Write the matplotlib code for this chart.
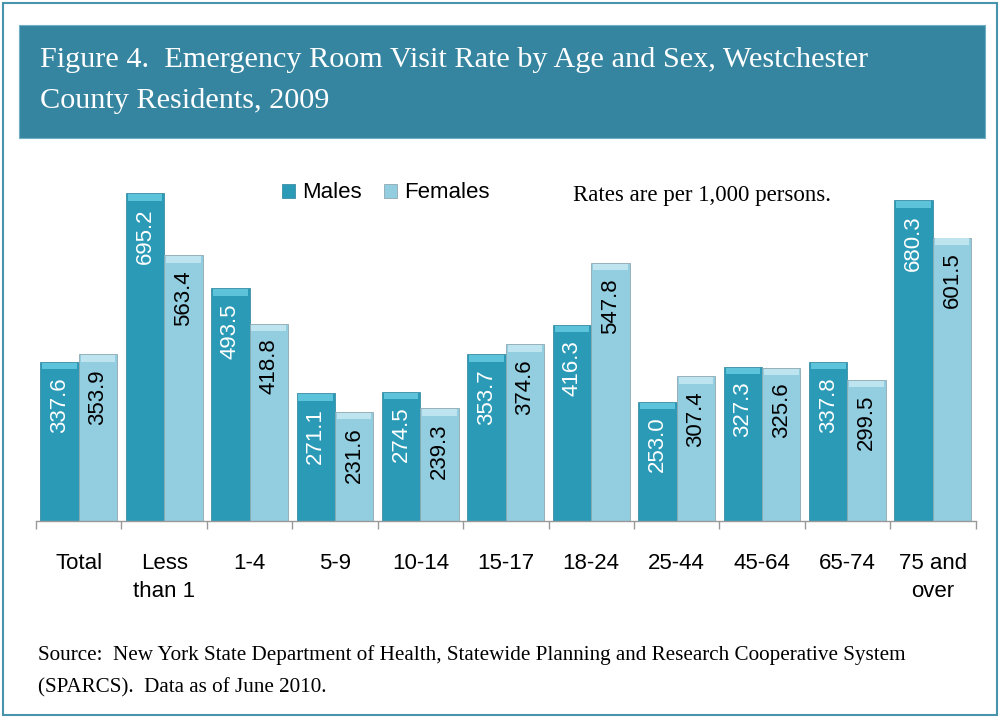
import numpy as np
import matplotlib
matplotlib.use("Agg")
import matplotlib.pyplot as plt
from matplotlib.patches import Rectangle

# data (rates per 1,000 persons)
categories = ["Total", "Less\nthan 1", "1-4", "5-9", "10-14", "15-17",
              "18-24", "25-44", "45-64", "65-74", "75 and\nover"]
males = [337.6, 695.2, 493.5, 271.1, 274.5, 353.7, 416.3, 253.0, 327.3, 337.8, 680.3]
females = [353.9, 563.4, 418.8, 231.6, 239.3, 374.6, 547.8, 307.4, 325.6, 299.5, 601.5]

male_col = "#2a9ab6"
male_top = "#5cc3db"
fem_col = "#93cde0"
fem_top = "#bde4ef"
banner_col = "#3585a0"

W, H = 1002, 717
fig = plt.figure(figsize=(W / 100, H / 100), dpi=100)

# outer frame and title banner
fig.patches.append(Rectangle((3 / W, 2 / H), 994 / W, 712 / H, transform=fig.transFigure,
                             fill=False, edgecolor="#4a93ad", linewidth=1.5, zorder=-2))
fig.patches.append(Rectangle((19 / W, 1 - 138 / H), 966 / W, 113 / H, transform=fig.transFigure,
                             facecolor=banner_col, edgecolor="#6fb0c6", linewidth=0.8, zorder=-2))
fig.text(40 / W, 1 - 60 / H, "Figure 4.  Emergency Room Visit Rate by Age and Sex, Westchester",
         color="white", fontsize=21.8, family="Liberation Serif", va="center")
fig.text(40 / W, 1 - 101 / H, "County Residents, 2009",
         color="white", fontsize=21.8, family="Liberation Serif", va="center")

ax = fig.add_axes([36 / W, 1 - 521 / H, 939.6 / W, 377 / H])
x = np.arange(len(categories))
bw = 0.45
hm = ax.bar(x - bw / 2, males, bw, color=male_col, edgecolor="#3b8fa5", linewidth=0.6, zorder=2)
hf = ax.bar(x + bw / 2, females, bw, color=fem_col, edgecolor="#8fa9b2", linewidth=0.6, zorder=2)
# lighter bevel on top of each bar
cap = 14
ax.bar(x - bw / 2, [cap] * len(x), bw * 0.9, bottom=np.array(males) - cap - 2,
       color=male_top, linewidth=0, zorder=3)
ax.bar(x + bw / 2, [cap] * len(x), bw * 0.9, bottom=np.array(females) - cap - 2,
       color=fem_top, linewidth=0, zorder=3)

for xi, m, f in zip(x, males, females):
    ax.text(xi - bw / 2, m - 32, f"{m:.1f}", rotation=90, ha="center", va="top",
            color="white", fontsize=16, family="Liberation Sans", zorder=4)
    ax.text(xi + bw / 2, f - 32, f"{f:.1f}", rotation=90, ha="center", va="top",
            color="black", fontsize=16, family="Liberation Sans", zorder=4)

ax.set_xlim(-0.5, len(categories) - 0.5)
ax.set_ylim(0, 800)
ax.set_yticks([])
ax.set_xticks(np.arange(len(categories) + 1) - 0.5)
ax.set_xticklabels([])
ax.tick_params(axis="x", length=6, color="#999999", width=1)
for s in ["top", "right", "left"]:
    ax.spines[s].set_visible(False)
ax.spines["bottom"].set_color("#999999")
ax.spines["bottom"].set_linewidth(1)
ax.patch.set_alpha(0)

for xi, lab in zip(x, categories):
    ax.text(xi, -68, lab, ha="center", va="top", fontsize=16,
            family="Liberation Sans", linespacing=1.45)

ax.legend([hm, hf], ["Males", "Females"], loc="center left",
          bbox_to_anchor=(226 / 939.6, (521 - 193) / 377),
          ncol=2, frameon=False, prop={"family": "Liberation Sans", "size": 16},
          handlelength=0.6, handleheight=0.6, handletextpad=0.3, columnspacing=1.0)
fig.text(573 / W, 1 - 195 / H, "Rates are per 1,000 persons.", fontsize=16.5,
         family="Liberation Serif", va="center")

fig.text(38 / W, 1 - 655 / H,
         "Source:  New York State Department of Health, Statewide Planning and Research Cooperative System",
         fontsize=15.2, family="Liberation Serif", va="center")
fig.text(38 / W, 1 - 688 / H, "(SPARCS).  Data as of June 2010.",
         fontsize=15.2, family="Liberation Serif", va="center")

fig.savefig("out.png", dpi=100)
